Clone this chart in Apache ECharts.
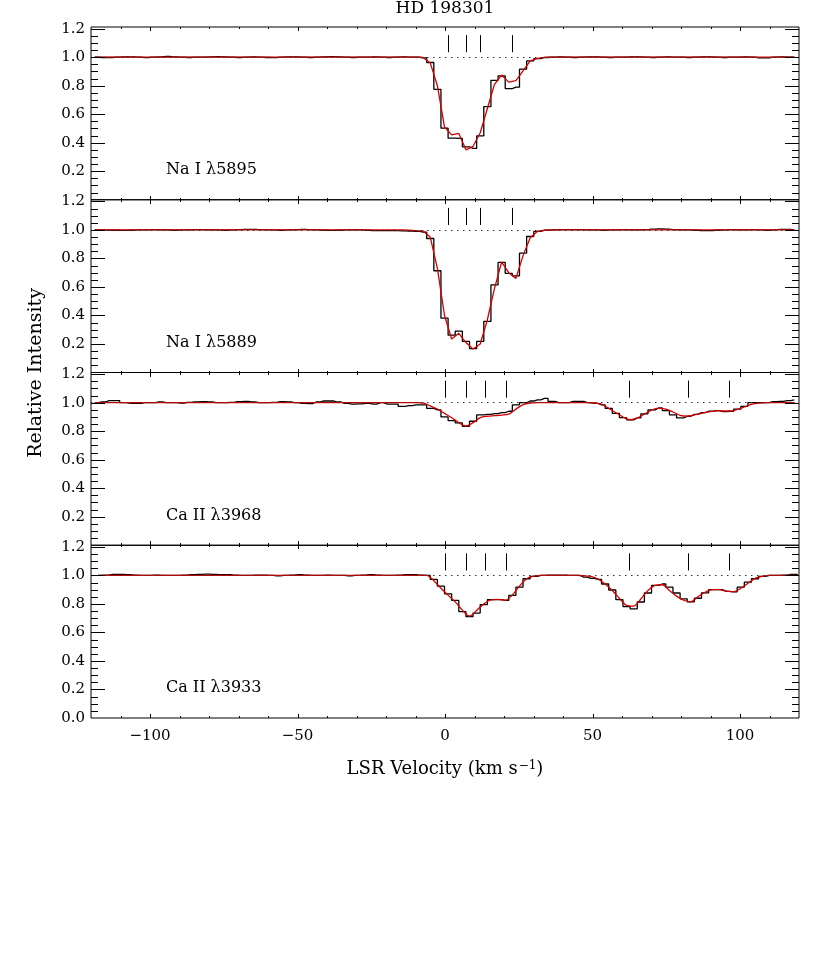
<!DOCTYPE html>
<html><head><meta charset="utf-8">
<script src="https://cdn.jsdelivr.net/npm/echarts@6/dist/echarts.min.js"></script>
<style>html,body{margin:0;padding:0;background:#fff}#c{width:830px;height:969px}</style>
</head><body><div id="c"></div>
<script>
// Bin-centre velocities (km/s)
const velocityA = [
-118.74,-116.32,-113.90,-111.48,-109.06,-106.64,-104.22,-101.80,-99.38,-96.96,
-94.54,-92.12,-89.70,-87.28,-84.86,-82.44,-80.02,-77.60,-75.18,-72.76,
-70.34,-67.92,-65.50,-63.08,-60.66,-58.24,-55.82,-53.40,-50.98,-48.56,
-46.14,-43.72,-41.30,-38.88,-36.46,-34.04,-31.62,-29.20,-26.78,-24.36,
-21.94,-19.52,-17.10,-14.68,-12.26,-9.84,-7.42,-5.00,-2.58,-0.16,
2.26,4.68,7.10,9.52,11.94,14.36,16.78,19.20,21.62,24.04,
26.46,28.88,31.30,33.72,36.14,38.56,40.98,43.40,45.82,48.24,
50.66,53.08,55.50,57.92,60.34,62.76,65.18,67.60,70.02,72.44,
74.86,77.28,79.70,82.12,84.54,86.96,89.38,91.80,94.22,96.64,
99.06,101.48,103.90,106.32,108.74,111.16,113.58,116.00,118.42];
const velocityB = [
-117.54,-115.12,-112.70,-110.28,-107.86,-105.44,-103.02,-100.60,-98.18,-95.76,
-93.34,-90.92,-88.50,-86.08,-83.66,-81.24,-78.82,-76.40,-73.98,-71.56,
-69.14,-66.72,-64.30,-61.88,-59.46,-57.04,-54.62,-52.20,-49.78,-47.36,
-44.94,-42.52,-40.10,-37.68,-35.26,-32.84,-30.42,-28.00,-25.58,-23.16,
-20.74,-18.32,-15.90,-13.48,-11.06,-8.64,-6.22,-3.80,-1.38,1.04,
3.46,5.88,8.30,10.72,13.14,15.56,17.98,20.40,22.82,25.24,
27.66,30.08,32.50,34.92,37.34,39.76,42.18,44.60,47.02,49.44,
51.86,54.28,56.70,59.12,61.54,63.96,66.38,68.80,71.22,73.64,
76.06,78.48,80.90,83.32,85.74,88.16,90.58,93.00,95.42,97.84,
100.26,102.68,105.10,107.52,109.94,112.36,114.78,117.20,119.62];

// Na I 5895 observed / fit
const naI5895 = [
1.000,0.998,0.998,1.000,1.003,1.003,1.000,0.997,1.000,1.003,
1.005,1.003,1.000,0.998,1.000,1.000,1.002,1.004,1.002,1.000,
0.998,1.000,1.002,1.000,0.998,0.997,1.000,1.002,1.003,1.000,
0.998,1.000,1.002,1.004,1.002,1.000,0.998,1.000,1.000,1.002,
1.000,0.998,1.000,1.002,1.000,1.000,0.995,0.963,0.775,0.502,
0.432,0.430,0.371,0.360,0.448,0.654,0.838,0.869,0.780,0.790,
0.916,0.974,0.990,0.998,1.000,1.002,1.000,0.998,1.000,1.002,
1.003,1.000,0.998,1.000,1.000,1.002,1.003,1.000,0.998,1.000,
1.002,1.000,1.000,0.998,1.000,1.003,1.002,1.000,0.998,1.000,
1.000,1.002,1.000,0.996,0.996,1.000,1.002,1.000,1.000];
const naI5895Fit = [
1,1,1,1,1,1,1,1,1,1,
1,1,1,1,1,1,1,1,1,1,
1,1,1,1,1,1,1,1,1,1,
1,1,1,1,1,1,1,1,1,1,
1,1,1,1,1,1,0.998,0.960,0.800,0.510,
0.455,0.465,0.350,0.375,0.470,0.640,0.810,0.875,0.825,0.835,
0.905,0.975,0.992,0.999,1,1,1,1,1,1,
1,1,1,1,1,1,1,1,1,1,
1,1,1,1,1,1,1,1,1,1,
1,1,1,1,1,1,1,1,1];

// Na I 5889 observed / fit
const naI5889 = [
1.000,1.000,0.998,0.998,0.997,0.998,1.000,1.000,1.002,1.000,
1.000,0.998,1.000,1.000,1.002,1.003,1.000,1.000,0.998,1.000,
1.002,1.004,1.004,1.002,1.000,1.000,0.998,1.000,1.002,1.004,
1.002,1.000,0.998,0.997,0.998,1.000,1.000,1.000,0.998,0.996,
0.996,0.995,0.995,0.993,0.992,0.990,0.985,0.940,0.714,0.381,
0.262,0.290,0.218,0.168,0.218,0.358,0.615,0.772,0.695,0.678,
0.837,0.954,0.990,0.998,1.000,1.002,1.003,1.003,1.002,1.000,
1.000,0.998,1.000,1.000,1.002,1.000,1.000,1.003,1.006,1.008,
1.006,1.003,1.000,1.000,0.998,0.996,0.995,0.998,1.000,1.002,
1.000,1.000,1.002,1.000,0.998,1.000,1.004,1.004,1.000];
const naI5889Fit = [
1,1,1,1,1,1,1,1,1,1,
1,1,1,1,1,1,1,1,1,1,
1,1,1,1,1,1,1,1,1,1,
1,1,1,1,1,1,1,1,1,1,
1,1,1,1,0.998,0.995,0.993,0.950,0.730,0.400,
0.235,0.275,0.210,0.165,0.200,0.370,0.590,0.775,0.700,0.660,
0.820,0.945,0.990,0.998,1,1,1,1,1,1,
1,1,1,1,1,1,1,1,1,1,
1,1,1,1,1,1,1,1,1,1,
1,1,1,1,1,1,1,1,1];

// Ca II 3968 observed / fit
const caII3968 = [
1.000,1.005,1.015,1.015,1.000,0.995,0.995,1.000,1.000,1.005,
1.000,1.000,0.998,1.002,1.005,1.008,1.005,1.000,1.000,1.002,
1.008,1.010,1.005,1.000,1.000,1.003,1.008,1.005,1.000,0.995,
0.993,1.005,1.012,1.012,1.005,0.995,0.990,0.992,0.995,0.990,
1.000,0.990,0.990,0.975,0.980,0.985,0.985,0.960,0.950,0.900,
0.875,0.858,0.835,0.870,0.915,0.918,0.923,0.930,0.940,0.985,
1.000,1.012,1.020,1.030,1.010,1.000,1.000,1.010,1.010,1.000,
0.995,0.985,0.960,0.925,0.895,0.880,0.893,0.922,0.950,0.963,
0.945,0.915,0.893,0.905,0.918,0.930,0.940,0.945,0.937,0.940,
0.955,0.975,1.000,1.000,1.000,1.008,1.010,1.015,1.020];
const caII3968Fit = [
1,1,1,1,1,1,1,1,1,1,
1,1,1,1,1,1,1,1,1,1,
1,1,1,1,1,1,1,1,1,1,
1,1,1,1,1,1,1,1,1,1,
1,1,1,1,1,1,0.998,0.978,0.955,0.925,
0.895,0.860,0.836,0.860,0.895,0.905,0.909,0.913,0.920,0.955,
0.987,0.998,1,1,1,1,1,1,1,1,
0.998,0.990,0.960,0.930,0.900,0.880,0.893,0.920,0.948,0.962,
0.955,0.935,0.912,0.906,0.915,0.925,0.935,0.943,0.942,0.942,
0.953,0.970,0.988,0.997,1,1,1,1,1];

// Ca II 3933 observed / fit
const caII3933 = [
1.000,1.003,1.008,1.008,1.005,1.003,1.000,1.000,1.002,1.000,
1.000,1.000,1.003,1.005,1.008,1.010,1.008,1.005,1.005,1.003,
1.000,1.000,1.002,1.003,1.000,0.998,1.000,1.003,1.005,1.003,
1.000,1.000,1.002,1.000,1.000,0.998,1.000,1.003,1.005,1.003,
1.000,1.000,1.002,1.005,1.005,1.002,1.000,0.972,0.925,0.871,
0.825,0.747,0.712,0.736,0.796,0.830,0.830,0.825,0.860,0.918,
0.977,0.993,1.000,1.002,1.002,1.002,1.000,1.000,0.988,0.980,
0.972,0.940,0.898,0.830,0.782,0.766,0.814,0.877,0.930,0.940,
0.918,0.877,0.836,0.815,0.840,0.878,0.900,0.900,0.888,0.885,
0.918,0.953,0.977,0.993,1.000,1.000,1.003,1.007,1.007];
const caII3933Fit = [
1,1,1,1,1,1,1,1,1,1,
1,1,1,1,1,1,1,1,1,1,
1,1,1,1,1,1,1,1,1,1,
1,1,1,1,1,1,1,1,1,1,
1,1,1,1,1,1,1,0.963,0.910,0.862,
0.815,0.757,0.715,0.755,0.800,0.828,0.832,0.826,0.862,0.925,
0.977,0.995,1,1,1,1,1,1,0.998,0.993,
0.975,0.940,0.895,0.840,0.790,0.785,0.835,0.895,0.930,0.935,
0.895,0.855,0.826,0.815,0.850,0.882,0.900,0.900,0.890,0.885,
0.910,0.945,0.980,0.993,1,1,1,1,1];

// Component velocities (tick marks)
const naComponents = [1.1, 7.2, 12.0, 22.9];
const caComponents = [0.2, 7.2, 13.6, 20.9, 62.3, 82.4, 96.5];
const continuumLevel = 1.0;

// Tick values
const xMajorTicks = [-100, -50, 0, 50, 100];
const xMinorTicks = [-110,-90,-80,-70,-60,-40,-30,-20,-10,10,20,30,40,60,70,80,90,110];
const yMajorTicks = [0.2, 0.4, 0.6, 0.8, 1.0, 1.2];
const yMinorTicks = [0.05,0.1,0.15,0.25,0.3,0.35,0.45,0.5,0.55,0.65,0.7,0.75,0.85,0.9,0.95,1.05,1.1,1.15];
const yLabelsUpper = [0.2, 0.4, 0.6, 0.8, 1.0, 1.2];
const yLabelsLowest = [0, 0.2, 0.4, 0.6, 0.8, 1.0, 1.2];

const panelLabels = ['Na I \u03bb5895', 'Na I \u03bb5889', 'Ca II \u03bb3968', 'Ca II \u03bb3933'];
const panels = [
  {label: panelLabels[0], vel: velocityA, flux: naI5895, fit: naI5895Fit, comps: naComponents, smooth: false},
  {label: panelLabels[1], vel: velocityA, flux: naI5889, fit: naI5889Fit, comps: naComponents, smooth: false},
  {label: panelLabels[2], vel: velocityA, flux: caII3968, fit: caII3968Fit, comps: caComponents, smooth: 0.3},
  {label: panelLabels[3], vel: velocityB, flux: caII3933, fit: caII3933Fit, comps: caComponents, smooth: 0.3}
];

const FONT = 'DejaVu Serif';
const LEFT = 91, WIDTH = 708, TOP0 = 27, PH = 172.75;
const XMIN = -120, XMAX = 120, YMIN = 0, YMAX = 1.212;

const grids = [], xAxes = [], yAxes = [], series = [], graphics = [];

// tick marks (inward on all four sides), crisp 1px filled rectangles,
// placed with the same linear mapping as the panel axes
function tickRect(x, y, w, h) {
  graphics.push({type: 'rect', z: 100, shape: {x: x, y: y, width: w, height: h}, style: {fill: '#000'}});
}
function addTicks(i) {
  const top = Math.round(TOP0 + i * PH), bot = Math.round(TOP0 + (i + 1) * PH);
  const xl = LEFT, xr = LEFT + WIDTH;
  const px = v => Math.round(LEFT + (v - XMIN) / (XMAX - XMIN) * WIDTH);
  const py = v => Math.round(TOP0 + (i + 1) * PH - (v - YMIN) / (YMAX - YMIN) * PH);
  xMajorTicks.forEach(v => { const x = px(v); tickRect(x, bot - 4, 1, 4); tickRect(x, top, 1, 4); });
  xMinorTicks.forEach(v => { const x = px(v); tickRect(x, bot - 2, 1, 2); tickRect(x, top, 1, 2); });
  yMajorTicks.forEach(v => { const y = py(v); tickRect(xl, y, 14, 1); tickRect(xr - 14, y, 14, 1); });
  yMinorTicks.forEach(v => { const y = py(v); tickRect(xl, y, 7, 1); tickRect(xr - 7, y, 7, 1); });
}

panels.forEach((p, i) => {
  const last = i === panels.length - 1;
  grids.push({left: LEFT, width: WIDTH, top: TOP0 + i * PH, height: PH,
    show: true, borderColor: '#000', borderWidth: 1, backgroundColor: 'transparent'});
  const xa = {
    type: 'value', gridIndex: i, min: XMIN, max: XMAX,
    axisLine: {show: false}, axisTick: {show: false}, splitLine: {show: false},
    axisLabel: {show: last, customValues: xMajorTicks, margin: 11, color: '#000', fontFamily: FONT, fontSize: 15,
      formatter: v => String(v).replace('-', '\u2212')}
  };
  if (last) {
    xa.name = '{t|LSR Velocity (km s}{s|\u22121}{t|)}';
    xa.nameLocation = 'middle';
    xa.nameGap = 42;
    xa.nameTextStyle = {rich: {
      t: {fontFamily: FONT, fontSize: 18, color: '#000'},
      s: {fontFamily: FONT, fontSize: 12, color: '#000', verticalAlign: 'top', padding: [0, 0, 0, 1]}
    }};
  }
  xAxes.push(xa);
  yAxes.push({
    type: 'value', gridIndex: i, min: YMIN, max: YMAX,
    axisLine: {show: false}, axisTick: {show: false}, splitLine: {show: false},
    axisLabel: {show: true, customValues: last ? yLabelsLowest : yLabelsUpper, margin: 6, color: '#000',
      fontFamily: FONT, fontSize: 15, formatter: v => v.toFixed(1)}
  });

  series.push({
    type: 'line', xAxisIndex: i, yAxisIndex: i, step: 'middle', symbol: 'none', silent: true, z: 2,
    data: p.vel.map((v, j) => [v, p.flux[j]]),
    lineStyle: {color: '#000', width: 1.3},
    markLine: {silent: true, symbol: 'none', label: {show: false}, animation: false,
      lineStyle: {type: [1.5, 4.5], color: '#333', width: 1},
      data: [{yAxis: continuumLevel}]}
  });
  series.push({
    type: 'line', xAxisIndex: i, yAxisIndex: i, symbol: 'none', silent: true, z: 3, smooth: p.smooth,
    data: p.vel.map((v, j) => [v, p.fit[j]]),
    lineStyle: {color: '#d40000', width: 1.3},
    markLine: {silent: true, symbol: 'none', label: {show: false}, animation: false,
      lineStyle: {type: 'solid', color: '#000', width: 1},
      data: p.comps.map(c => [{coord: [c, 1.035]}, {coord: [c, 1.155]}])}
  });
  graphics.push({type: 'text', x: 166, y: TOP0 + i * PH + 143,
    style: {text: p.label, fill: '#000', font: '16px "DejaVu Serif"', textVerticalAlign: 'middle'}});
  addTicks(i);
});

graphics.push({type: 'text', x: 445, y: 9,
  style: {text: 'HD 198301', fill: '#000', font: '17px "DejaVu Serif"', textAlign: 'center', textVerticalAlign: 'middle'}});
graphics.push({type: 'text', x: 36, y: 373, rotation: Math.PI / 2,
  style: {text: 'Relative Intensity', fill: '#000', font: '19px "DejaVu Serif"', textAlign: 'center', textVerticalAlign: 'middle'}});

const chart = echarts.init(document.getElementById('c'), null, {renderer: 'canvas'});
chart.setOption({
  animation: false,
  backgroundColor: '#fff',
  grid: grids, xAxis: xAxes, yAxis: yAxes, series: series, graphic: graphics
});
</script></body></html>
